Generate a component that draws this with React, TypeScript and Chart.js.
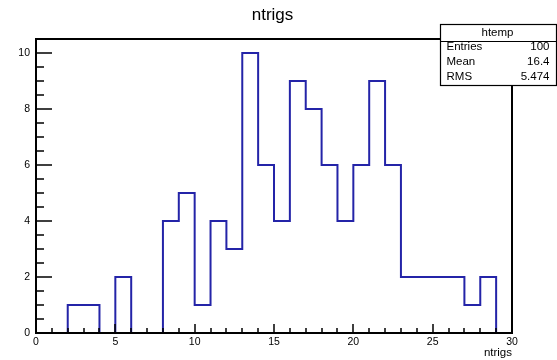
import React, { useEffect, useRef } from "react";
import { Chart, registerables } from "chart.js";

Chart.register(...registerables);

// Histogram bins (low edges, plus final upper edge) and counts
const binEdges = [0, 1, 2, 3, 4, 5, 6, 7, 8, 9, 10, 11, 12, 13, 14, 15, 16, 17, 18, 19, 20, 21, 22, 23, 24, 25, 26, 27, 28, 29, 30];
const counts = [0, 0, 1, 1, 0, 2, 0, 0, 4, 5, 1, 4, 3, 10, 6, 4, 9, 8, 6, 4, 6, 9, 6, 2, 2, 2, 2, 1, 2, 0];

const titleText = "ntrigs";
const xAxisTitle = "ntrigs";
const statsName = "htemp";
const statsLabels = ["Entries", "Mean", "RMS"];
const statsValues = ["100", "16.4", "5.474"];

const xMin = 0;
const xMax = 30;
const yMin = 0;
const yMax = 10.5;

const FONT = "'Liberation Sans', Arial, Helvetica, sans-serif";

const rootFramePlugin = {
  id: "rootFrame",
  afterDraw(chart: any) {
    const { ctx, chartArea: a, scales } = chart;
    const xs = scales.x;
    const ys = scales.y;
    ctx.save();
    ctx.strokeStyle = "#000";
    ctx.lineCap = "butt";

    // ticks
    ctx.lineWidth = 1.5;
    ctx.beginPath();
    xs.ticks.forEach((t: any) => {
      const v = t.value;
      if (v < xMin || v > xMax) return;
      const px = Math.round(xs.getPixelForValue(v));
      const len = v % 5 === 0 ? 9 : 5;
      ctx.moveTo(px, a.bottom);
      ctx.lineTo(px, a.bottom - len);
    });
    ys.ticks.forEach((t: any) => {
      const v = t.value;
      if (v < yMin || v > 10) return;
      const py = Math.round(ys.getPixelForValue(v));
      const len = v % 2 === 0 ? 16 : 8;
      ctx.moveTo(a.left, py);
      ctx.lineTo(a.left + len, py);
    });
    ctx.stroke();

    // frame
    ctx.lineWidth = 2;
    ctx.strokeRect(a.left, a.top, a.right - a.left, a.bottom - a.top);

    // title
    ctx.fillStyle = "#000";
    ctx.font = `17px ${FONT}`;
    ctx.textAlign = "center";
    ctx.textBaseline = "alphabetic";
    ctx.fillText(titleText, 272.5, 20);

    // stats box
    const bx = 440.5;
    const by = 24.5;
    const bw = 116;
    const bh = 61;
    const sep = 41.5;
    ctx.fillStyle = "#fff";
    ctx.fillRect(bx, by, bw, bh);
    ctx.lineWidth = 1.2;
    ctx.strokeRect(bx, by, bw, bh);
    ctx.beginPath();
    ctx.moveTo(bx, sep);
    ctx.lineTo(bx + bw, sep);
    ctx.stroke();
    ctx.fillStyle = "#000";
    ctx.font = `11.5px ${FONT}`;
    ctx.textBaseline = "middle";
    ctx.textAlign = "center";
    ctx.fillText(statsName, bx + bw / 2 - 1, 33);
    const rowY = [46.5, 61.5, 77];
    statsLabels.forEach((lab, i) => {
      ctx.textAlign = "left";
      ctx.fillText(lab, 446.5, rowY[i]);
      ctx.textAlign = "right";
      ctx.fillText(statsValues[i], 549.5, rowY[i]);
    });
    ctx.restore();
  },
};

export default function App() {
  const canvasRef = useRef<HTMLCanvasElement | null>(null);

  useEffect(() => {
    if (!canvasRef.current) return;
    const points = binEdges.map((x, i) => ({
      x,
      y: i < counts.length ? counts[i] : counts[counts.length - 1],
    }));
    const chart = new Chart(canvasRef.current, {
      type: "line",
      data: {
        datasets: [
          {
            label: "htemp",
            data: points,
            stepped: "before",
            borderColor: "#2424a8",
            borderWidth: 2,
            pointRadius: 0,
            fill: false,
          },
        ],
      },
      options: {
        responsive: false,
        animation: false,
        events: [],
        layout: { padding: { left: 0, right: 45, top: 39, bottom: 0 } },
        plugins: {
          legend: { display: false },
          tooltip: { enabled: false },
          title: { display: false },
        },
        scales: {
          x: {
            type: "linear",
            min: xMin,
            max: xMax,
            grid: { display: false, drawTicks: false },
            border: { display: false },
            ticks: {
              stepSize: 1,
              autoSkip: false,
              maxRotation: 0,
              padding: 3,
              color: "#000",
              font: { family: FONT, size: 10.5 },
              callback: (v: any) => (Number(v) % 5 === 0 ? String(v) : ""),
            },
            title: {
              display: true,
              text: xAxisTitle,
              align: "end",
              color: "#000",
              font: { family: FONT, size: 11.5 },
              padding: { top: 0, bottom: 0 },
            },
            afterFit: (s: any) => {
              s.height = 27;
            },
          },
          y: {
            type: "linear",
            min: yMin,
            max: yMax,
            grid: { display: false, drawTicks: false },
            border: { display: false },
            ticks: {
              stepSize: 0.5,
              autoSkip: false,
              padding: 6,
              color: "#000",
              font: { family: FONT, size: 10.5 },
              callback: (v: any) => {
                const n = Number(v);
                return n % 2 === 0 && n <= 10 ? String(n) : "";
              },
            },
            afterFit: (s: any) => {
              s.width = 36;
            },
          },
        },
      },
      plugins: [rootFramePlugin],
    } as any);
    return () => chart.destroy();
  }, []);

  return (
    <div style={{ position: "absolute", left: 0, top: 0, width: 557, height: 360, background: "#fff" }}>
      <canvas ref={canvasRef} width={557} height={360} style={{ display: "block" }} />
    </div>
  );
}
